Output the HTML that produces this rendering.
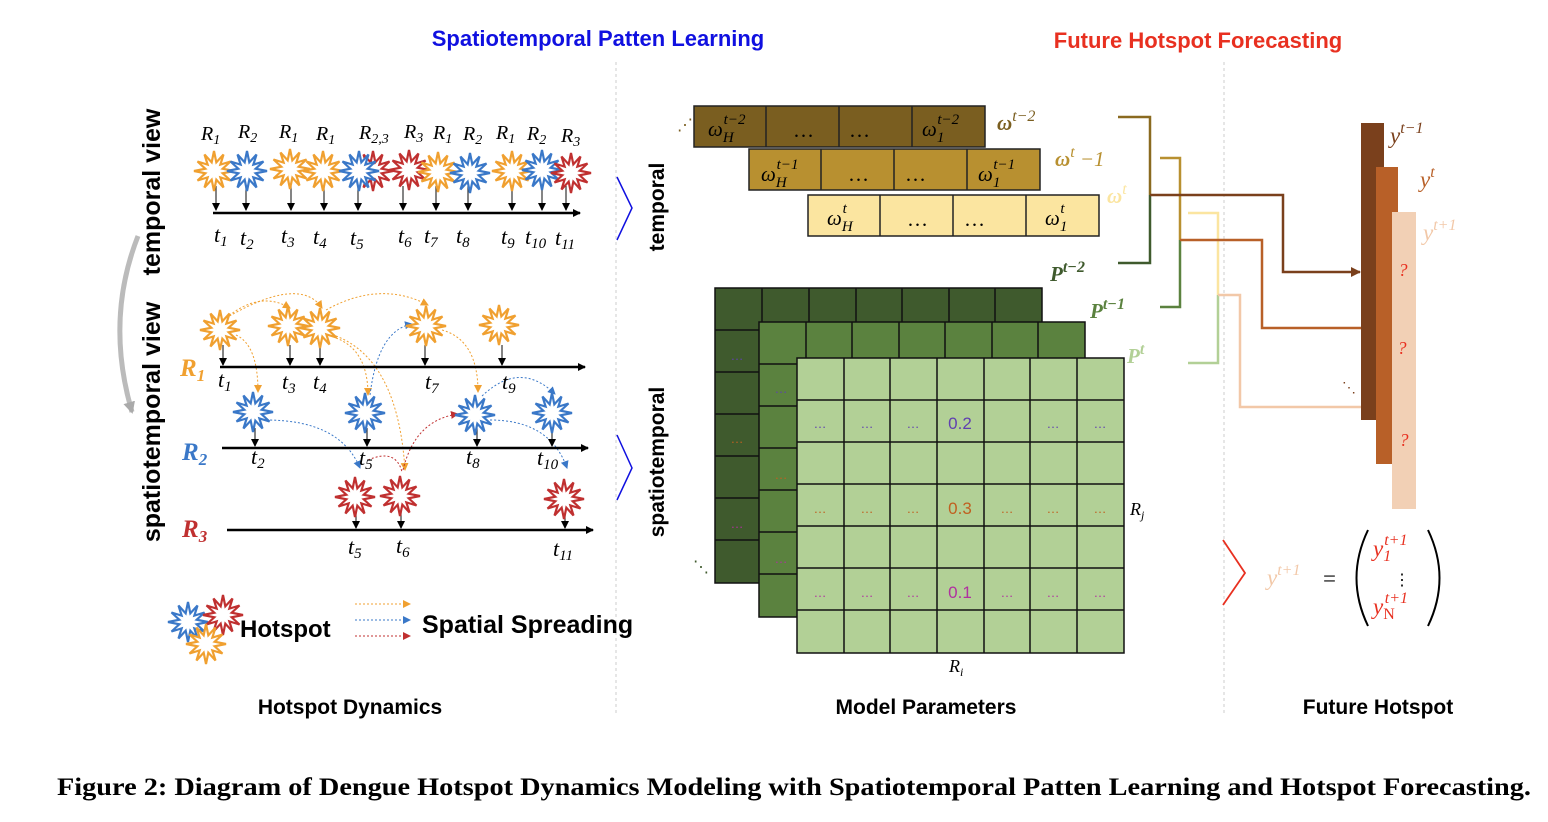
<!DOCTYPE html>
<html><head><meta charset="utf-8"><style>
body{margin:0;background:#fff;width:1548px;height:822px;overflow:hidden}
svg{display:block}
.m{font-family:"Liberation Serif",serif;font-style:italic}
.s{font-family:"Liberation Sans",sans-serif;font-weight:bold}
</style></head><body>
<svg width="1548" height="822" viewBox="0 0 1548 822" xmlns="http://www.w3.org/2000/svg">
<defs>
<polygon id="st" points="0,-20 2.33,-8.69 9.5,-16.5 6.36,-6.36 16.5,-9.5 8.69,-2.33 20,0 8.69,2.33 16.5,9.5 6.36,6.36 9.5,16.5 2.33,8.69 0,20 -2.33,8.69 -9.5,16.5 -6.36,6.36 -16.5,9.5 -8.69,2.33 -20,0 -8.69,-2.33 -16.5,-9.5 -6.36,-6.36 -9.5,-16.5 -2.33,-8.69" fill="#fff" stroke-width="2.2"/>
<marker id="ak" markerWidth="8" markerHeight="8" refX="7" refY="4" orient="auto" markerUnits="userSpaceOnUse"><path d="M0,0L8,4L0,8z" fill="#000"/></marker>
<marker id="ao" markerWidth="8" markerHeight="8" refX="7" refY="4" orient="auto" markerUnits="userSpaceOnUse"><path d="M0,0L8,4L0,8z" fill="#f0a030"/></marker>
<marker id="ab" markerWidth="8" markerHeight="8" refX="7" refY="4" orient="auto" markerUnits="userSpaceOnUse"><path d="M0,0L8,4L0,8z" fill="#3a78c8"/></marker>
<marker id="ar" markerWidth="8" markerHeight="8" refX="7" refY="4" orient="auto" markerUnits="userSpaceOnUse"><path d="M0,0L8,4L0,8z" fill="#c03030"/></marker>
<marker id="a1" markerWidth="10" markerHeight="10" refX="9" refY="5" orient="auto" markerUnits="userSpaceOnUse"><path d="M0,0L10,5L0,10z" fill="#7a401c"/></marker>
<marker id="a2" markerWidth="10" markerHeight="10" refX="9" refY="5" orient="auto" markerUnits="userSpaceOnUse"><path d="M0,0L10,5L0,10z" fill="#b86028"/></marker>
<marker id="a3" markerWidth="10" markerHeight="10" refX="9" refY="5" orient="auto" markerUnits="userSpaceOnUse"><path d="M0,0L10,5L0,10z" fill="#f2c8a8"/></marker>
<marker id="ag" markerWidth="12" markerHeight="12" refX="10" refY="6" orient="auto" markerUnits="userSpaceOnUse"><path d="M0,0L12,6L0,12z" fill="#aaa"/></marker>
</defs>

<text x="598" y="46" text-anchor="middle" class="s" font-size="22" fill="#1010e0">Spatiotemporal Patten Learning</text>
<text x="1198" y="48" text-anchor="middle" class="s" font-size="22" fill="#e83020">Future Hotspot Forecasting</text>
<line x1="616" y1="62" x2="616" y2="716" stroke="#ccc" stroke-dasharray="3,3"/>
<line x1="1224" y1="62" x2="1224" y2="716" stroke="#ccc" stroke-dasharray="3,3"/>

<text transform="translate(160,192) rotate(-90)" text-anchor="middle" class="s" font-size="25">temporal view</text>
<text transform="translate(160,422) rotate(-90)" text-anchor="middle" class="s" font-size="25">spatiotemporal view</text>
<path d="M138,236 Q105,320 132,412" fill="none" stroke="#bbb" stroke-width="5" marker-end="url(#ag)"/>

<line x1="213" y1="213" x2="580" y2="213" stroke="#000" stroke-width="2.5" marker-end="url(#ak)"/>
<g stroke="#333" stroke-width="1.2" marker-end="url(#ak)">
<line x1="216" y1="186" x2="216" y2="210"/><line x1="246" y1="186" x2="246" y2="210"/><line x1="291" y1="186" x2="291" y2="210"/><line x1="324" y1="186" x2="324" y2="210"/><line x1="358" y1="186" x2="358" y2="210"/><line x1="403" y1="186" x2="403" y2="210"/><line x1="436" y1="186" x2="436" y2="210"/><line x1="468" y1="186" x2="468" y2="210"/><line x1="512" y1="186" x2="512" y2="210"/><line x1="542" y1="186" x2="542" y2="210"/><line x1="566" y1="186" x2="566" y2="210"/>
</g>
<use href="#st" x="214" y="171" stroke="#f0a030"/>
<use href="#st" x="247" y="171" stroke="#3a78c8"/>
<use href="#st" x="290" y="169" stroke="#f0a030"/>
<use href="#st" x="323" y="171" stroke="#f0a030"/>
<use href="#st" x="373" y="171" stroke="#c03030"/>
<use href="#st" x="359" y="171" stroke="#3a78c8"/>
<use href="#st" x="409" y="170" stroke="#c03030"/>
<use href="#st" x="438" y="172" stroke="#f0a030"/>
<use href="#st" x="470" y="173" stroke="#3a78c8"/>
<use href="#st" x="512" y="171" stroke="#f0a030"/>
<use href="#st" x="542" y="170" stroke="#3a78c8"/>
<use href="#st" x="571" y="173" stroke="#c03030"/>
<g class="m" font-size="20" fill="#000">
<text x="201" y="140">R<tspan font-size="14" dy="4">1</tspan></text>
<text x="238" y="138">R<tspan font-size="14" dy="4">2</tspan></text>
<text x="279" y="138">R<tspan font-size="14" dy="4">1</tspan></text>
<text x="316" y="140">R<tspan font-size="14" dy="4">1</tspan></text>
<text x="359" y="139">R<tspan font-size="14" dy="4">2,3</tspan></text>
<text x="404" y="138">R<tspan font-size="14" dy="4">3</tspan></text>
<text x="433" y="139">R<tspan font-size="14" dy="4">1</tspan></text>
<text x="463" y="140">R<tspan font-size="14" dy="4">2</tspan></text>
<text x="496" y="139">R<tspan font-size="14" dy="4">1</tspan></text>
<text x="527" y="140">R<tspan font-size="14" dy="4">2</tspan></text>
<text x="561" y="142">R<tspan font-size="14" dy="4">3</tspan></text>
<g font-size="22">
<text x="214" y="242">t<tspan font-size="15" dy="4">1</tspan></text>
<text x="240" y="245">t<tspan font-size="15" dy="4">2</tspan></text>
<text x="281" y="243">t<tspan font-size="15" dy="4">3</tspan></text>
<text x="313" y="244">t<tspan font-size="15" dy="4">4</tspan></text>
<text x="350" y="245">t<tspan font-size="15" dy="4">5</tspan></text>
<text x="398" y="243">t<tspan font-size="15" dy="4">6</tspan></text>
<text x="424" y="243">t<tspan font-size="15" dy="4">7</tspan></text>
<text x="456" y="243">t<tspan font-size="15" dy="4">8</tspan></text>
<text x="501" y="244">t<tspan font-size="15" dy="4">9</tspan></text>
<text x="525" y="244">t<tspan font-size="15" dy="4">10</tspan></text>
<text x="555" y="245">t<tspan font-size="15" dy="4">11</tspan></text>
</g></g>

<g stroke-width="1" fill="none" stroke-dasharray="2,2">
<path d="M226,318 Q260,290 290,308" stroke="#f0a030" marker-end="url(#ao)"/>
<path d="M226,318 Q300,275 322,308" stroke="#f0a030" marker-end="url(#ao)"/>
<path d="M326,310 Q380,280 428,305" stroke="#f0a030" marker-end="url(#ao)"/>
<path d="M236,335 Q258,345 258,392" stroke="#f0a030" marker-end="url(#ao)"/>
<path d="M336,338 Q368,350 368,395" stroke="#f0a030" marker-end="url(#ao)"/>
<path d="M336,336 Q398,360 405,470" stroke="#f0a030" marker-end="url(#ao)"/>
<path d="M442,330 Q478,340 478,392" stroke="#f0a030" marker-end="url(#ao)"/>
<path d="M370,395 Q378,330 412,324" stroke="#3a78c8" marker-end="url(#ab)"/>
<path d="M266,420 Q340,420 360,468" stroke="#3a78c8" marker-end="url(#ab)"/>
<path d="M482,396 Q520,360 555,394" stroke="#3a78c8" marker-end="url(#ab)"/>
<path d="M490,420 Q550,420 567,468" stroke="#3a78c8" marker-end="url(#ab)"/>
<path d="M368,460 Q396,448 402,472" stroke="#c03030"/>
<path d="M403,470 Q415,420 458,414" stroke="#c03030" marker-end="url(#ar)"/>
</g>
<g stroke="#000" stroke-width="2.5">
<line x1="220" y1="367" x2="585" y2="367" marker-end="url(#ak)"/>
<line x1="222" y1="448" x2="588" y2="448" marker-end="url(#ak)"/>
<line x1="227" y1="530" x2="593" y2="530" marker-end="url(#ak)"/>
</g>
<g stroke="#333" stroke-width="1.2" marker-end="url(#ak)">
<line x1="223" y1="345" x2="223" y2="365"/><line x1="290" y1="345" x2="290" y2="365"/><line x1="320" y1="345" x2="320" y2="365"/><line x1="425" y1="345" x2="425" y2="365"/><line x1="502" y1="345" x2="502" y2="365"/>
<line x1="255" y1="428" x2="255" y2="446"/><line x1="367" y1="428" x2="367" y2="446"/><line x1="477" y1="428" x2="477" y2="446"/><line x1="552" y1="428" x2="552" y2="446"/>
<line x1="356" y1="510" x2="356" y2="528"/><line x1="401" y1="510" x2="401" y2="528"/><line x1="565" y1="510" x2="565" y2="528"/>
</g>
<use href="#st" x="220" y="330" stroke="#f0a030"/>
<use href="#st" x="288" y="326" stroke="#f0a030"/>
<use href="#st" x="320" y="328" stroke="#f0a030"/>
<use href="#st" x="426" y="326" stroke="#f0a030"/>
<use href="#st" x="499" y="325" stroke="#f0a030"/>
<use href="#st" x="253" y="412" stroke="#3a78c8"/>
<use href="#st" x="365" y="413" stroke="#3a78c8"/>
<use href="#st" x="475" y="415" stroke="#3a78c8"/>
<use href="#st" x="552" y="413" stroke="#3a78c8"/>
<use href="#st" x="355" y="497" stroke="#c03030"/>
<use href="#st" x="400" y="496" stroke="#c03030"/>
<use href="#st" x="564" y="499" stroke="#c03030"/>
<g class="m" font-weight="bold" font-size="25">
<text x="180" y="376" fill="#f0a030">R<tspan font-size="17" dy="5">1</tspan></text>
<text x="182" y="460" fill="#3a78c8">R<tspan font-size="17" dy="5">2</tspan></text>
<text x="182" y="537" fill="#c03030">R<tspan font-size="17" dy="5">3</tspan></text>
</g>
<g class="m" font-size="22">
<text x="218" y="387">t<tspan font-size="15" dy="4">1</tspan></text>
<text x="282" y="389">t<tspan font-size="15" dy="4">3</tspan></text>
<text x="313" y="389">t<tspan font-size="15" dy="4">4</tspan></text>
<text x="425" y="389">t<tspan font-size="15" dy="4">7</tspan></text>
<text x="502" y="389">t<tspan font-size="15" dy="4">9</tspan></text>
<text x="251" y="464">t<tspan font-size="15" dy="4">2</tspan></text>
<text x="359" y="465">t<tspan font-size="15" dy="4">5</tspan></text>
<text x="466" y="464">t<tspan font-size="15" dy="4">8</tspan></text>
<text x="537" y="465">t<tspan font-size="15" dy="4">10</tspan></text>
<text x="348" y="554">t<tspan font-size="15" dy="4">5</tspan></text>
<text x="396" y="553">t<tspan font-size="15" dy="4">6</tspan></text>
<text x="553" y="556">t<tspan font-size="15" dy="4">11</tspan></text>
</g>

<use href="#st" x="188" y="622" stroke="#3a78c8"/>
<use href="#st" x="223" y="615" stroke="#c03030"/>
<use href="#st" x="206" y="644" stroke="#f0a030"/>
<text x="240" y="637" class="s" font-size="24">Hotspot</text>
<g stroke-width="1" stroke-dasharray="2,2">
<line x1="355" y1="604" x2="410" y2="604" stroke="#f0a030" marker-end="url(#ao)"/>
<line x1="355" y1="620" x2="410" y2="620" stroke="#3a78c8" marker-end="url(#ab)"/>
<line x1="355" y1="636" x2="410" y2="636" stroke="#c03030" marker-end="url(#ar)"/>
</g>
<text x="422" y="633" class="s" font-size="25">Spatial Spreading</text>

<path d="M617,177 L632,208 L617,240" fill="none" stroke="#1010e0" stroke-width="1.5"/>
<path d="M617,435 L632,468 L617,500" fill="none" stroke="#1010e0" stroke-width="1.5"/>
<text transform="translate(664,207) rotate(-90)" text-anchor="middle" class="s" font-size="21">temporal</text>
<text transform="translate(664,462) rotate(-90)" text-anchor="middle" class="s" font-size="21">spatiotemporal</text>

<g stroke="#222" stroke-width="1.5">
<rect x="694" y="106" width="291" height="41" fill="#7a5e20"/>
<line x1="766" y1="106" x2="766" y2="147"/><line x1="839" y1="106" x2="839" y2="147"/><line x1="912" y1="106" x2="912" y2="147"/>
<rect x="749" y="149" width="291" height="41" fill="#b89030"/>
<line x1="821" y1="149" x2="821" y2="190"/><line x1="894" y1="149" x2="894" y2="190"/><line x1="967" y1="149" x2="967" y2="190"/>
<rect x="808" y="195" width="291" height="41" fill="#fbe5a0"/>
<line x1="880" y1="195" x2="880" y2="236"/><line x1="953" y1="195" x2="953" y2="236"/><line x1="1026" y1="195" x2="1026" y2="236"/>
</g>
<g class="m" font-size="21" fill="#000">
<text x="708" y="136">ω<tspan font-size="15" dy="6">H</tspan><tspan font-size="15" dx="-10" dy="-18">t−2</tspan></text>
<text x="793" y="137" font-style="normal">…</text><text x="849" y="137" font-style="normal">…</text>
<text x="922" y="136">ω<tspan font-size="15" dy="6">1</tspan><tspan font-size="15" dx="-7" dy="-18">t−2</tspan></text>
<text x="761" y="181">ω<tspan font-size="15" dy="6">H</tspan><tspan font-size="15" dx="-10" dy="-18">t−1</tspan></text>
<text x="848" y="181" font-style="normal">…</text><text x="905" y="181" font-style="normal">…</text>
<text x="978" y="181">ω<tspan font-size="15" dy="6">1</tspan><tspan font-size="15" dx="-7" dy="-18">t−1</tspan></text>
<text x="827" y="225">ω<tspan font-size="15" dy="6">H</tspan><tspan font-size="15" dx="-10" dy="-18">t</tspan></text>
<text x="907" y="226" font-style="normal">…</text><text x="964" y="226" font-style="normal">…</text>
<text x="1045" y="225">ω<tspan font-size="15" dy="6">1</tspan><tspan font-size="15" dx="-7" dy="-18">t</tspan></text>
</g>
<text x="677" y="130" font-size="16" fill="#7a5e20">⋰</text>
<g class="m" font-weight="bold" font-size="21">
<text x="997" y="130" fill="#7a5e20">ω<tspan font-size="16" font-weight="normal" dy="-9">t−2</tspan></text>
<text x="1055" y="166" fill="#b89030">ω<tspan font-size="16" font-weight="normal" dy="-9">t</tspan><tspan font-weight="normal" dy="9"> −1</tspan></text>
<text x="1107" y="203" fill="#fbe5a0">ω<tspan font-size="16" font-weight="normal" dy="-9">t</tspan></text>
<text x="1050" y="281" fill="#3f5a2d">P<tspan font-size="16" dy="-9">t−2</tspan></text>
<text x="1090" y="318" fill="#5b823f">P<tspan font-size="16" dy="-9">t−1</tspan></text>
<text x="1127" y="363" fill="#b2d096">P<tspan font-size="16" dy="-9">t</tspan></text>
</g>

<g stroke="#111" stroke-width="1.5">
<rect x="715" y="288" width="327" height="295" fill="#3f5a2d"/>
<path d="M762,288V330M809,288V330M856,288V330M902,288V330M949,288V330M995,288V330M715,330H1042M715,372H760M715,414H760M715,456H760M715,498H760M715,540H760" fill="none"/>
<rect x="759" y="322" width="326" height="295" fill="#5b823f"/>
<path d="M806,322V358M852,322V358M899,322V358M945,322V358M992,322V358M1038,322V358M759,364H797M759,406H797M759,448H797M759,490H797M759,532H797M759,574H797" fill="none"/>
<rect x="797" y="358" width="327" height="295" fill="#b2d096"/>
<path d="M844,358V653M890,358V653M937,358V653M984,358V653M1030,358V653M1077,358V653M797,400H1124M797,442H1124M797,484H1124M797,526H1124M797,568H1124M797,610H1124" fill="none"/>
</g>
<g font-family="Liberation Sans,sans-serif" font-size="13" text-anchor="middle">
<g fill="#6040b0"><text x="820" y="428">…</text><text x="867" y="428">…</text><text x="913" y="428">…</text><text x="1053" y="428">…</text><text x="1100" y="428">…</text><text x="737" y="360">…</text><text x="781" y="393">…</text></g>
<text x="960" y="429" font-size="17" fill="#6040b0">0.2</text>
<g fill="#c06020"><text x="820" y="513">…</text><text x="867" y="513">…</text><text x="913" y="513">…</text><text x="1007" y="513">…</text><text x="1053" y="513">…</text><text x="1100" y="513">…</text><text x="737" y="443">…</text><text x="781" y="479">…</text></g>
<text x="960" y="514" font-size="17" fill="#c06020">0.3</text>
<g fill="#b030a0"><text x="820" y="597">…</text><text x="867" y="597">…</text><text x="913" y="597">…</text><text x="1007" y="597">…</text><text x="1053" y="597">…</text><text x="1100" y="597">…</text><text x="737" y="528">…</text><text x="781" y="563">…</text></g>
<text x="960" y="598" font-size="17" fill="#b030a0">0.1</text>
</g>
<text x="693" y="572" font-size="16" fill="#3f5a2d">⋱</text>
<text x="1130" y="515" class="m" font-size="18">R<tspan font-size="12" dy="4">j</tspan></text>
<text x="949" y="672" class="m" font-size="18">R<tspan font-size="12" dy="4">i</tspan></text>

<g fill="none" stroke-width="2.5">
<path d="M1118,117H1150V195" stroke="#8a6a20"/><path d="M1150,195V263H1118" stroke="#3f5a2d"/>
<path d="M1160,158H1180V240" stroke="#b89030"/><path d="M1180,240V307H1160" stroke="#5b823f"/>
<path d="M1188,213H1218V295" stroke="#fbe5a0"/><path d="M1218,295V363H1188" stroke="#b2d096"/>
<path d="M1150,195H1283V272H1360" stroke="#7a401c" marker-end="url(#a1)"/>
<path d="M1180,240H1262V328H1372" stroke="#b86028" marker-end="url(#a2)"/>
<path d="M1218,295H1240V407H1388" stroke="#f2c8a8" marker-end="url(#a3)"/>
</g>

<rect x="1361" y="123" width="23" height="297" fill="#7a401c"/>
<rect x="1376" y="167" width="22" height="297" fill="#b86028"/>
<rect x="1392" y="212" width="24" height="297" fill="#f2d0b5"/>
<g class="m" font-size="18" fill="#e83020" text-anchor="middle">
<text x="1403" y="276">?</text><text x="1402" y="354">?</text><text x="1404" y="446">?</text></g>
<text x="1342" y="392" font-size="14" fill="#7a401c">⋱</text>
<g class="m" font-size="23">
<text x="1390" y="143" fill="#7a401c">y<tspan font-size="16" dy="-10">t−1</tspan></text>
<text x="1420" y="187" fill="#b86028">y<tspan font-size="16" dy="-10">t</tspan></text>
<text x="1423" y="240" fill="#f2c8a8">y<tspan font-size="16" dy="-10">t+1</tspan></text>
</g>

<path d="M1223,540 L1245,573 L1223,605" fill="none" stroke="#e83020" stroke-width="1.8"/>
<g class="m" font-size="23">
<text x="1267" y="585" fill="#f2c8a8">y<tspan font-size="16" dy="-10">t+1</tspan></text>
<text x="1323" y="586" font-style="normal" fill="#000">=</text>
<path d="M1368,530 Q1345,578 1368,626" fill="none" stroke="#000" stroke-width="2"/>
<path d="M1428,530 Q1451,578 1428,626" fill="none" stroke="#000" stroke-width="2"/>
<text x="1373" y="556" fill="#e83020">y<tspan font-size="16" dy="5">1</tspan><tspan font-size="16" dx="-7" dy="-16">t+1</tspan></text>
<text x="1394" y="585" font-style="normal" font-size="16">⋮</text>
<text x="1373" y="614" fill="#e83020">y<tspan font-size="16" dy="5" font-style="normal">N</tspan><tspan font-size="16" dx="-10" dy="-16">t+1</tspan></text>
</g>

<g class="s" font-size="21" text-anchor="middle">
<text x="350" y="714">Hotspot Dynamics</text>
<text x="926" y="714">Model Parameters</text>
<text x="1378" y="714">Future Hotspot</text>
</g>
<text x="57" y="795" font-family="Liberation Serif,serif" font-weight="bold" font-size="25" textLength="1474" lengthAdjust="spacingAndGlyphs">Figure 2: Diagram of Dengue Hotspot Dynamics Modeling with Spatiotemporal Patten Learning and Hotspot Forecasting.</text>
</svg>
</body></html>
